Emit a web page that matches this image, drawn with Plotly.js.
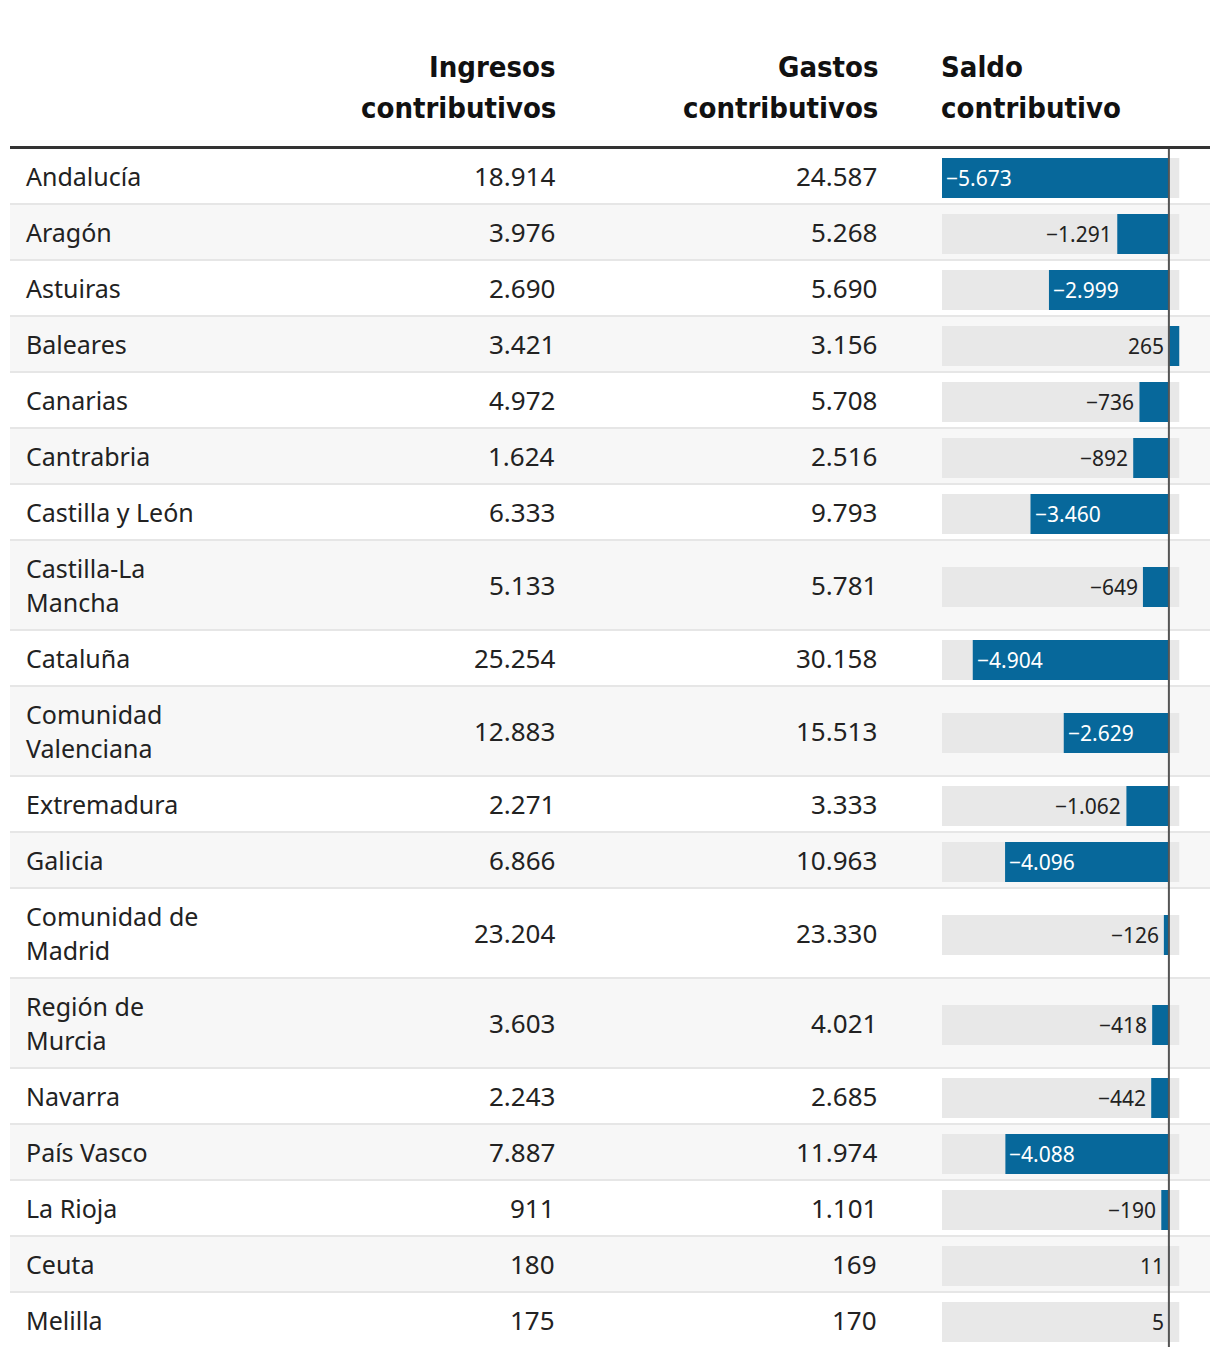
<!DOCTYPE html>
<html>
<head>
<meta charset="utf-8">
<script src="https://cdn.plot.ly/plotly-3.0.1.min.js"></script>
<style>
  html, body { margin: 0; padding: 0; background: #ffffff; }
  #chart { width: 1220px; height: 1358px; }
</style>
</head>
<body>
<div id="chart"></div>
<script>
// ---- Data ----
const regiones = ["Andalucía", "Aragón", "Astuiras", "Baleares", "Canarias", "Cantrabria",
  "Castilla y León", "Castilla-La\nMancha", "Cataluña", "Comunidad\nValenciana", "Extremadura",
  "Galicia", "Comunidad de\nMadrid", "Región de\nMurcia", "Navarra", "País Vasco", "La Rioja",
  "Ceuta", "Melilla"];
const ingresos = [18914, 3976, 2690, 3421, 4972, 1624, 6333, 5133, 25254, 12883, 2271, 6866,
  23204, 3603, 2243, 7887, 911, 180, 175];
const gastos = [24587, 5268, 5690, 3156, 5708, 2516, 9793, 5781, 30158, 15513, 3333, 10963,
  23330, 4021, 2685, 11974, 1101, 169, 170];
const saldo = [-5673, -1291, -2999, 265, -736, -892, -3460, -649, -4904, -2629, -1062, -4096,
  -126, -418, -442, -4088, -190, 11, 5];
const cabeceras = ["Ingresos\ncontributivos", "Gastos\ncontributivos", "Saldo\ncontributivo"];

// ---- Layout constants ----
const W = 1220, H = 1358;
const TOP = 149;
const BODY_FONT = "'Noto Sans', Roboto, sans-serif";
const HEAD_FONT = "'DejaVu Sans Condensed', 'Liberation Sans Narrow', sans-serif";
const TEXT = "#222222";
const BLUE = "#07689b";
const BG_BAR = "#e8e8e8";
const BAR_X0 = 942, BAR_X1 = 1179.5;

function fmt(v) {
  const s = Math.abs(v).toString().replace(/\B(?=(\d{3})+(?!\d))/g, ".");
  return (v < 0 ? "\u2212" : "") + s;
}
const px = v => v / W;

const minS = Math.min(...saldo), maxS = Math.max(...saldo);
const pxPerUnit = (BAR_X1 - BAR_X0) / (maxS - minS);

// row geometry
const rows = [];
let yCur = TOP;
regiones.forEach(r => {
  const n = r.split("\n").length;
  const h = 56 + 34 * (n - 1);
  rows.push({ y0: yCur, y1: yCur + h, yc: yCur + h / 2 + 1, lines: r.split("\n") });
  yCur += h;
});

const shapes = [];
const annotations = [];

rows.forEach((r, i) => {
  if (i % 2 === 1) {
    shapes.push({ type: "rect", xref: "paper", yref: "y", x0: px(10), x1: px(1210),
      y0: r.y0, y1: r.y1, fillcolor: "#f7f7f7", line: { width: 0 }, layer: "below" });
  }
  if (i < rows.length - 1) {
    shapes.push({ type: "line", xref: "paper", yref: "y", x0: px(10), x1: px(1210),
      y0: r.y1 - 1, y1: r.y1 - 1, line: { color: "#e6e6e6", width: 2 }, layer: "below" });
  }
  const ty = r.yc - 2;
  // region name lines
  const nl = r.lines.length;
  r.lines.forEach((ln, k) => {
    annotations.push({ xref: "paper", yref: "y", x: px(24), y: ty + (k - (nl - 1) / 2) * 34,
      text: ln, showarrow: false, xanchor: "left", yanchor: "middle",
      font: { family: BODY_FONT, size: 25, color: TEXT } });
  });
  annotations.push({ xref: "paper", yref: "y", x: px(557), y: ty, text: fmt(ingresos[i]),
    showarrow: false, xanchor: "right", yanchor: "middle",
    font: { family: BODY_FONT, size: 26, color: TEXT } });
  annotations.push({ xref: "paper", yref: "y", x: px(879), y: ty, text: fmt(gastos[i]),
    showarrow: false, xanchor: "right", yanchor: "middle",
    font: { family: BODY_FONT, size: 26, color: TEXT } });
  // bar label
  const v = saldo[i];
  const lenPx = Math.abs(v) * pxPerUnit;
  if (v < 0 && lenPx > 90) {
    annotations.push({ xref: "x", yref: "y", x: v, y: r.yc, text: fmt(v), showarrow: false,
      xanchor: "left", yanchor: "middle", xshift: 2,
      font: { family: BODY_FONT, size: 21, color: "#ffffff" } });
  } else {
    annotations.push({ xref: "x", yref: "y", x: Math.min(v, 0), y: r.yc, text: fmt(v), showarrow: false,
      xanchor: "right", yanchor: "middle", xshift: -3,
      font: { family: BODY_FONT, size: 21, color: TEXT } });
  }
});

// headers
const headPos = [{ x: 558, a: "right" }, { x: 880, a: "right" }, { x: 939, a: "left" }];
cabeceras.forEach((h, j) => {
  h.split("\n").forEach((ln, k) => {
    annotations.push({ xref: "paper", yref: "y", x: px(headPos[j].x), y: 67 + k * 41,
      text: "<b>" + ln + "</b>", showarrow: false, xanchor: headPos[j].a, yanchor: "middle",
      font: { family: HEAD_FONT, size: 29, color: "#111111" } });
  });
});

// header rule
shapes.push({ type: "line", xref: "paper", yref: "y", x0: px(10), x1: px(1210), y0: 147.5, y1: 147.5,
  line: { color: "#333333", width: 3 } });
// zero line
shapes.push({ type: "line", xref: "x", yref: "y", x0: 0, x1: 0, y0: TOP, y1: yCur - 2,
  line: { color: "#555555", width: 2 } });

const yc = rows.map(r => r.yc);
const traces = [
  { type: "bar", orientation: "h", y: yc, x: saldo.map(() => maxS - minS), base: saldo.map(() => minS),
    width: 40, marker: { color: BG_BAR }, hoverinfo: "skip", xaxis: "x", yaxis: "y" },
  { type: "bar", orientation: "h", y: yc, x: saldo, base: 0,
    width: 40, marker: { color: BLUE }, hoverinfo: "skip", xaxis: "x", yaxis: "y" }
];

const layout = {
  width: W, height: H,
  margin: { l: 0, r: 0, t: 0, b: 0 },
  paper_bgcolor: "#ffffff", plot_bgcolor: "rgba(0,0,0,0)",
  showlegend: false, barmode: "overlay",
  font: { family: BODY_FONT, color: TEXT },
  xaxis: { domain: [px(BAR_X0), px(BAR_X1)], range: [minS, maxS], visible: false, fixedrange: true },
  yaxis: { domain: [0, 1], range: [H, 0], visible: false, fixedrange: true },
  shapes: shapes,
  annotations: annotations
};

Plotly.newPlot("chart", traces, layout, { displayModeBar: false, staticPlot: true });
</script>
</body>
</html>
